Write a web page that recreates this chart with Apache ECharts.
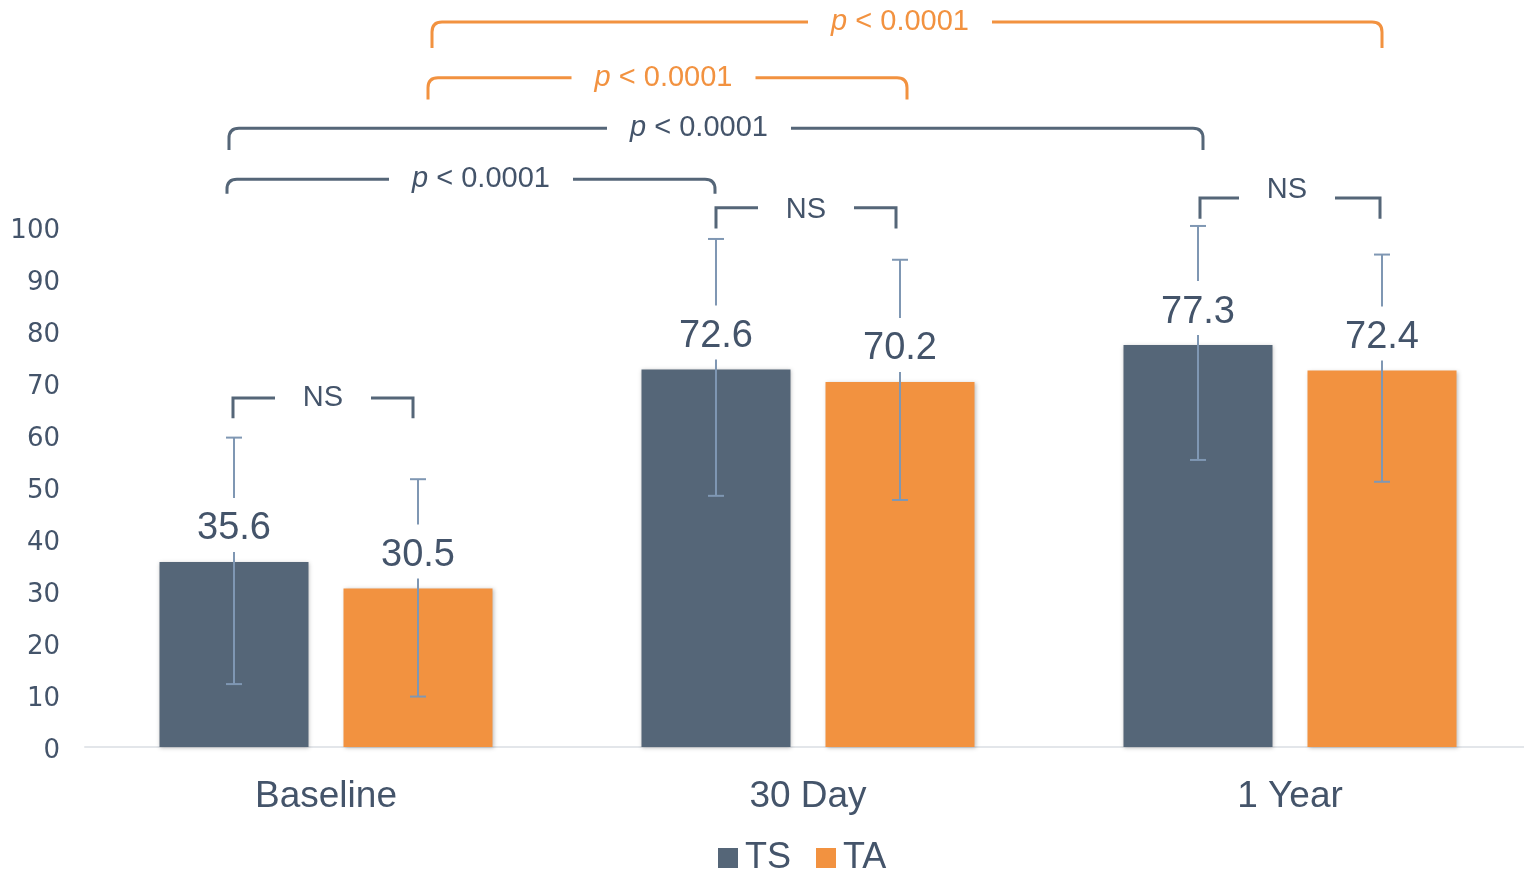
<!DOCTYPE html>
<html>
<head>
<meta charset="utf-8">
<title>TS vs TA</title>
<script src="https://cdn.jsdelivr.net/npm/echarts@6/dist/echarts.min.js"></script>
<style>
  html, body { margin: 0; padding: 0; background: #ffffff; }
  #chart { width: 1524px; height: 870px; }
</style>
</head>
<body>
<div id="chart"></div>
<script>
// ---- data ----
const categories = ['Baseline', '30 Day', '1 Year'];
const seriesNames = ['TS', 'TA'];
const tsValues = [35.6, 72.6, 77.3];
const taValues = [30.5, 70.2, 72.4];
// error bar extents (upper / lower)
const tsErrPlus = [23.9, 25.1, 22.9];
const tsErrMinus = [23.5, 24.3, 22.1];
const taErrPlus = [21.0, 23.5, 22.3];
const taErrMinus = [20.8, 22.7, 21.4];
const yTicks = [0, 10, 20, 30, 40, 50, 60, 70, 80, 90, 100];

// significance brackets: endpoints are [categoryIndex, seriesIndex], level in axis units
const brackets = [
  { from: [0, 0], to: [0, 1], level: 67.1, drop: 3.9, label: 'NS', tone: 'dark', square: true },
  { from: [1, 0], to: [1, 1], level: 103.7, drop: 4.0, label: 'NS', tone: 'dark', square: true },
  { from: [2, 0], to: [2, 1], level: 105.6, drop: 4.0, label: 'NS', tone: 'dark', square: true },
  { from: [0, 0], to: [1, 0], level: 109.2, drop: 2.8, label: 'p', tone: 'dark' },
  { from: [0, 0], to: [2, 0], level: 119.0, drop: 4.2, label: 'p', tone: 'dark' },
  { from: [0, 1], to: [1, 1], level: 128.7, drop: 4.2, label: 'p', tone: 'orange' },
  { from: [0, 1], to: [2, 1], level: 139.4, drop: 5.0, label: 'p', tone: 'orange' }
];

// ---- styling ----
const TS_COLOR = '#556678';
const TA_COLOR = '#F29240';
const TEXT_COLOR = '#44546A';
const ERR_COLOR = '#7F97B3';
const FONT = 'Liberation Sans, Arial, sans-serif';
const BAR_W = 149;
const BAR_GAP = 0.235;
const SIDE_OFFSET = (BAR_W + BAR_W * BAR_GAP) / 2;
// hand placement tweaks for each bracket (pixels): left end, right end, label x, label y
const bracketNudge = [
  [-1, -5, 0, 0],
  [0, -4, 0, 2],
  [2, -2, -3, -8],
  [-7, -1, 10, 0],
  [-5, 5, -17, 0],
  [10, 7, -4, 0],
  [14, 0, -7, 0]
];

const errData = [];
tsValues.forEach((v, i) => errData.push([i, v, tsErrPlus[i], tsErrMinus[i], 0]));
taValues.forEach((v, i) => errData.push([i, v, taErrPlus[i], taErrMinus[i], 1]));

function barX(api, cat, s) {
  return api.coord([cat, 0])[0] + (s === 0 ? -SIDE_OFFSET : SIDE_OFFSET);
}

function renderErr(params, api) {
  const cat = api.value(0), val = api.value(1);
  const up = api.value(2), dn = api.value(3), s = api.value(4);
  const x = barX(api, cat, s);
  const yVal = api.coord([cat, val])[1];
  const yTop = api.coord([cat, val + up])[1];
  const yBot = api.coord([cat, val - dn])[1];
  const lineStyle = { stroke: ERR_COLOR, lineWidth: 2 };
  return {
    type: 'group',
    children: [
      { type: 'line', shape: { x1: x, y1: yTop, x2: x, y2: yBot }, style: lineStyle },
      { type: 'line', shape: { x1: x - 8, y1: yTop, x2: x + 8, y2: yTop }, style: lineStyle },
      { type: 'line', shape: { x1: x - 8, y1: yBot, x2: x + 8, y2: yBot }, style: lineStyle },
      {
        type: 'text', z2: 10,
        style: {
          text: val.toFixed(1), x: x, y: yVal - 10,
          align: 'center', verticalAlign: 'bottom',
          fill: TEXT_COLOR, fontSize: 38, fontFamily: FONT,
          backgroundColor: '#ffffff', padding: [11, 4, 3, 4], lineHeight: 40
        }
      }
    ]
  };
}

function renderBracket(params, api) {
  const b = brackets[params.dataIndex];
  const n = bracketNudge[params.dataIndex];
  const x1 = barX(api, b.from[0], b.from[1]) + n[0];
  const x2 = barX(api, b.to[0], b.to[1]) + n[1];
  const y = api.coord([0, b.level])[1];
  const yEnd = api.coord([0, b.level - b.drop])[1];
  const color = b.tone === 'orange' ? TA_COLOR : TS_COLOR;
  const textColor = b.tone === 'orange' ? TA_COLOR : TEXT_COLOR;
  let path;
  if (b.square) {
    path = `M${x1} ${yEnd} L${x1} ${y} L${x2} ${y} L${x2} ${yEnd}`;
  } else {
    const r = 10;
    path = `M${x1} ${yEnd} L${x1} ${y + r} Q${x1} ${y} ${x1 + r} ${y} L${x2 - r} ${y} Q${x2} ${y} ${x2} ${y + r} L${x2} ${yEnd}`;
  }
  const isP = b.label === 'p';
  const tx = (x1 + x2) / 2 + n[2];
  const ty = y + n[3];
  const halfW = isP ? 92 : 48;
  return {
    type: 'group',
    children: [
      { type: 'path', shape: { pathData: path }, style: { stroke: color, lineWidth: 3, fill: null } },
      // white knockout so the bracket line breaks around its label
      { type: 'rect', z2: 9, shape: { x: tx - halfW, y: y - 4, width: halfW * 2, height: 8 }, style: { fill: '#ffffff' } },
      {
        type: 'text', z2: 10,
        style: {
          text: isP ? '{i|p} < 0.0001' : 'NS',
          x: tx, y: ty,
          align: 'center', verticalAlign: 'middle',
          fill: textColor, fontSize: 29, fontFamily: FONT,
          rich: { i: { fontStyle: 'italic', fontSize: 29, fontFamily: FONT, fill: textColor } }
        }
      }
    ]
  };
}

const chart = echarts.init(document.getElementById('chart'), null, { renderer: 'canvas' });
chart.setOption({
  animation: false,
  backgroundColor: '#ffffff',
  grid: { left: 85, right: -7, top: 227, bottom: 123, containLabel: false, outerBoundsMode: 'none' },
  legend: {
    data: seriesNames,
    left: 713, top: 835,
    icon: 'rect', itemWidth: 20, itemHeight: 20, itemGap: 25,
    textStyle: { fontSize: 36, color: TEXT_COLOR, fontFamily: FONT, padding: [0, 0, 0, 2] }
  },
  xAxis: {
    type: 'category',
    data: categories,
    axisTick: { show: false },
    axisLine: { lineStyle: { color: '#E3E6EA', width: 2 } },
    axisLabel: { fontSize: 37, color: TEXT_COLOR, fontFamily: FONT, margin: 31 }
  },
  yAxis: {
    type: 'value',
    min: yTicks[0], max: yTicks[yTicks.length - 1], interval: yTicks[1] - yTicks[0],
    axisLine: { show: false },
    axisTick: { show: false },
    splitLine: { show: false },
    axisLabel: {
      margin: 25,
      formatter: '{v|{value}}',
      rich: { v: { fontSize: 26, color: TEXT_COLOR, fontFamily: 'DejaVu Sans, sans-serif', padding: [8, 0, 0, 0] } }
    }
  },
  series: [
    {
      name: seriesNames[0], type: 'bar', data: tsValues,
      barWidth: BAR_W, barGap: (BAR_GAP * 100) + '%',
      itemStyle: { color: TS_COLOR, shadowBlur: 4, shadowColor: 'rgba(0,0,0,0.25)', shadowOffsetX: 1, shadowOffsetY: 1 },
      z: 2
    },
    {
      name: seriesNames[1], type: 'bar', data: taValues,
      barWidth: BAR_W, barGap: (BAR_GAP * 100) + '%',
      itemStyle: { color: TA_COLOR, shadowBlur: 4, shadowColor: 'rgba(0,0,0,0.25)', shadowOffsetX: 1, shadowOffsetY: 1 },
      z: 2
    },
    {
      name: 'error', type: 'custom', data: errData,
      renderItem: renderErr, z: 5, clip: false, silent: true,
      encode: { x: 0, y: 1 }
    },
    {
      name: 'brackets', type: 'custom', data: brackets.map((b, i) => [0, 0, i]),
      renderItem: renderBracket, z: 6, clip: false, silent: true
    }
  ]
});
</script>
</body>
</html>
